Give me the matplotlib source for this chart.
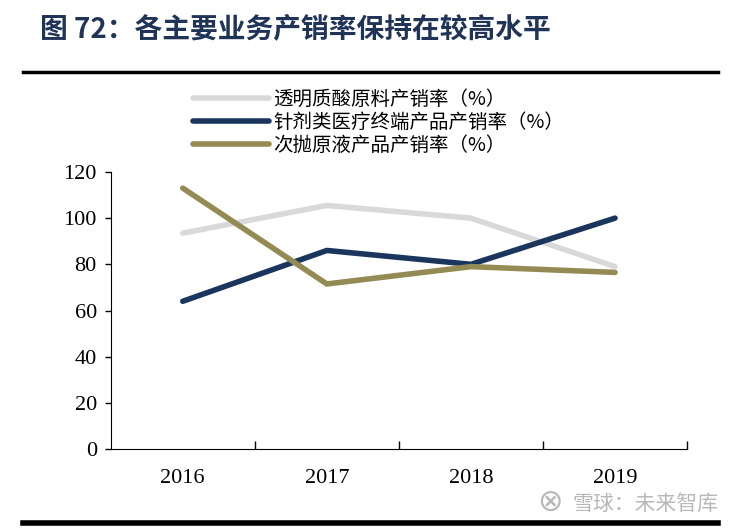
import matplotlib.pyplot as plt
from matplotlib.lines import Line2D

plt.rcParams['font.family'] = ['Noto Sans CJK SC', 'DejaVu Sans']

years = ['2016', '2017', '2018', '2019']
hyaluronic_raw = [93.5, 105.5, 100, 79]
injection_terminal = [64, 86, 80, 100]
disposable_liquid = [113, 71.5, 79, 76.5]
labels = ['透明质酸原料产销率（%）', '针剂类医疗终端产品产销率（%）', '次抛原液产品产销率（%）']
colors = ['#d9d9d9', '#1b365d', '#948a54']

fig = plt.figure(figsize=(7.38, 5.29), dpi=100)
ax = fig.add_axes([0.150, 0.151, 0.781, 0.524])

x = range(len(years))
for vals, c, lab in zip([hyaluronic_raw, injection_terminal, disposable_liquid], colors, labels):
    ax.plot(x, vals, color=c, lw=4, label=lab, solid_capstyle='round')

ax.set_xlim(-0.5, 3.5)
ax.set_ylim(0, 120)
ax.set_yticks(range(0, 121, 20))
ax.set_xticks(list(x))
ax.set_xticklabels(years)
ax.set_xticks([0.5, 1.5, 2.5, 3.5], minor=True)
ax.tick_params(axis='x', which='major', length=0, pad=14)
ax.tick_params(axis='x', which='minor', direction='in', length=6, width=1)
ax.tick_params(axis='y', direction='out', length=4, width=1, pad=6)
for lab in ax.get_xticklabels() + ax.get_yticklabels():
    lab.set_family('Liberation Serif')
    lab.set_fontsize(16)
ax.spines['top'].set_visible(False)
ax.spines['right'].set_visible(False)

ax.legend(loc='upper left', bbox_to_anchor=(0.262, 0.832), bbox_transform=fig.transFigure,
          frameon=False, fontsize=14, handlelength=3.9, handletextpad=0.2,
          labelspacing=0.1, borderpad=0, borderaxespad=0)

# title and rules
fig.text(0.054, 0.945, '图 72：各主要业务产销率保持在较高水平', fontsize=20, fontweight='bold',
         color='#1f3456', va='center', ha='left')
fig.add_artist(Line2D([0.031, 0.973], [0.864, 0.864], color='black', lw=2.5, transform=fig.transFigure))
fig.add_artist(Line2D([0.031, 0.973], [0.012, 0.012], color='black', lw=4, transform=fig.transFigure))
fig.text(0.973, 0.048, '雪球：未来智库', fontsize=15, color='#b8b8b8', ha='right', va='center')
fig.text(0.745, 0.050, '⊗', fontsize=22, color='#b8b8b8', ha='center', va='center',
         family='DejaVu Sans')

fig.savefig('out.png', dpi=100)
